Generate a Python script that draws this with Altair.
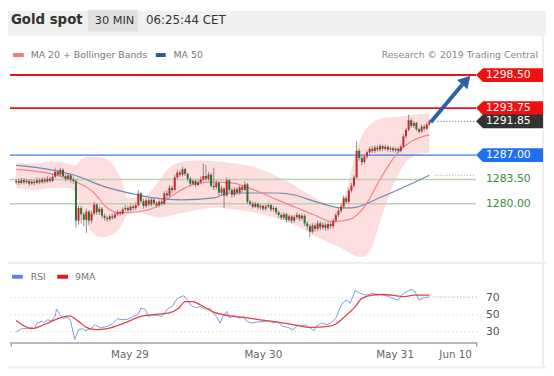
import altair as alt
import pandas as pd

FONT = "DejaVu Sans"

# ---------------- data ----------------
first_open = 1283.1
closes = [
1283.3,1283.0,1283.4,1283.1,1283.3,1282.9,1283.2,1283.0,1283.4,1283.1,
1283.5,1283.2,1283.6,1283.3,1283.9,1284.6,1284.2,1284.9,1284.0,1283.6,
1284.1,1283.5,1283.3,1277.6,1279.4,1278.5,1277.7,1278.9,1277.6,1278.6,
1279.9,1278.8,1279.3,1278.3,1278.0,1277.8,1278.2,1278.0,1278.5,1278.8,
1278.6,1279.2,1279.4,1279.1,1279.6,1279.4,1279.8,1281.5,1280.4,1279.7,
1280.5,1279.9,1280.6,1280.1,1279.8,1280.3,1280.0,1281.5,1281.2,1282.3,
1282.0,1283.8,1284.5,1284.2,1285.0,1284.3,1283.6,1282.9,1283.3,1282.7,
1283.1,1283.5,1284.0,1283.6,1284.2,1282.6,1282.4,1283.0,1281.6,1282.2,
1281.2,1283.4,1282.0,1281.3,1282.1,1281.6,1282.4,1282.0,1282.8,1280.3,
1280.0,1279.6,1280.0,1279.5,1279.7,1279.3,1279.6,1279.8,1279.2,1279.4,
1278.8,1278.4,1278.0,1278.5,1277.7,1278.2,1277.6,1278.1,1278.4,1277.9,
1278.3,1277.2,1276.8,1276.0,1276.9,1276.4,1277.2,1276.6,1277.0,1276.5,
1277.1,1276.8,1277.6,1278.4,1279.0,1279.6,1280.8,1280.3,1281.9,1282.6,
1283.8,1287.6,1286.6,1286.0,1286.8,1287.4,1287.9,1287.6,1288.1,1287.8,
1288.3,1287.9,1288.2,1287.8,1288.0,1287.7,1287.9,1287.6,1288.2,1289.7,
1290.6,1292.0,1291.2,1291.6,1290.7,1290.4,1291.1,1290.8,1291.4,1291.85]
highs = [
1283.6,1283.6,1283.7,1283.7,1283.6,1283.5,1283.5,1283.5,1283.8,1283.7,
1283.8,1283.8,1284.0,1283.9,1284.3,1285.2,1284.9,1285.2,1285.1,1284.3,
1284.4,1284.3,1283.9,1283.5,1279.8,1279.7,1278.8,1279.3,1279.1,1279.0,
1280.3,1280.1,1279.6,1279.5,1278.6,1278.3,1278.5,1278.6,1278.8,1279.1,
1279.0,1279.5,1279.8,1279.7,1279.9,1279.9,1280.2,1282.0,1281.7,1280.7,
1280.8,1280.8,1280.9,1280.9,1280.4,1280.6,1280.7,1281.8,1281.9,1282.7,
1282.6,1284.2,1284.9,1284.8,1285.3,1285.2,1284.5,1283.9,1283.6,1283.5,
1283.5,1283.9,1285.8,1285.6,1284.6,1284.4,1285.2,1283.4,1283.2,1282.6,
1282.4,1283.8,1283.6,1282.3,1282.4,1282.4,1282.7,1282.8,1283.2,1283.0,
1280.6,1280.3,1280.3,1280.2,1280.0,1279.9,1279.9,1280.1,1280.0,1279.7,
1279.6,1279.0,1278.7,1278.8,1278.7,1278.5,1278.4,1278.4,1278.8,1278.6,
1278.6,1278.5,1277.5,1277.1,1277.2,1277.2,1277.6,1277.5,1277.4,1277.3,
1277.4,1277.4,1277.9,1278.7,1279.4,1280.0,1281.2,1281.1,1282.3,1283.0,
1284.1,1289.0,1287.9,1286.9,1287.1,1287.7,1288.2,1288.3,1288.4,1288.4,
1288.6,1288.5,1288.5,1288.4,1288.3,1288.2,1288.2,1288.1,1288.5,1290.0,
1290.9,1292.8,1292.3,1291.9,1291.8,1290.9,1291.4,1291.4,1291.7,1292.1]
lows = [
1282.8,1282.7,1282.8,1282.8,1282.9,1282.5,1282.7,1282.6,1282.8,1282.8,
1282.9,1282.9,1283.0,1283.0,1283.1,1283.7,1283.9,1283.9,1283.7,1283.2,
1283.3,1283.0,1282.9,1276.6,1277.0,1277.2,1276.8,1275.8,1277.0,1277.2,
1278.3,1278.4,1278.4,1277.9,1277.6,1277.4,1277.5,1277.7,1277.8,1278.2,
1278.3,1278.4,1278.9,1278.8,1278.9,1279.1,1279.1,1279.6,1280.1,1279.3,
1279.4,1279.6,1279.6,1279.8,1279.4,1279.5,1279.7,1279.8,1280.8,1281.0,
1281.6,1281.8,1283.5,1283.9,1283.9,1284.0,1283.2,1282.5,1282.6,1282.4,
1282.5,1282.8,1283.2,1283.3,1283.3,1282.3,1282.0,1282.1,1281.2,1281.3,
1279.4,1281.0,1281.7,1280.9,1281.0,1281.3,1281.3,1281.7,1281.8,1280.0,
1279.7,1279.3,1279.4,1279.2,1279.2,1279.0,1279.0,1279.4,1278.9,1278.9,
1278.4,1278.0,1277.7,1277.7,1277.3,1277.4,1277.2,1277.3,1277.8,1277.5,
1277.6,1276.8,1276.3,1275.2,1275.7,1276.0,1276.1,1276.2,1276.3,1276.1,
1276.2,1276.4,1276.5,1277.3,1278.1,1278.7,1279.3,1280.0,1280.0,1281.6,
1282.3,1283.6,1286.2,1285.5,1285.7,1286.5,1287.1,1287.3,1287.3,1287.5,
1287.5,1287.6,1287.6,1287.5,1287.5,1287.4,1287.4,1287.3,1287.4,1288.0,
1289.4,1290.4,1290.9,1290.9,1290.4,1290.1,1290.2,1290.5,1290.6,1291.2]

band_i = [0,7,14,20,22.5,25.5,29,33,36.5,40.5,43,47.5,51.5,55,59,64.5,70,77,84.5,92,
          99.5,107,114.5,123.5,126,129,133,136.5,140.5,146,151.5,159]
band_upper = [1285.94,1285.80,1286.09,1285.80,1285.52,1286.51,1286.80,1286.65,1285.94,1283.40,
              1280.85,1280.99,1281.70,1283.40,1285.24,1286.09,1286.23,1286.09,1285.80,1285.24,
              1284.10,1282.69,1280.99,1279.43,1280.57,1284.81,1289.77,1291.47,1292.31,1292.46,
              1292.74,1293.02]
band_lower = [1282.26,1281.98,1282.26,1282.26,1281.70,1278.44,1276.04,1275.19,1275.47,1276.89,
              1278.44,1278.73,1278.30,1278.02,1278.30,1278.73,1279.15,1279.43,1279.15,1278.73,
              1278.02,1277.03,1275.47,1273.92,1273.49,1272.78,1272.36,1273.49,1278.02,1283.40,
              1286.51,1287.36]

ma20_i = [0,16,22.5,30,34.5,39.5,47,53,57.5,63.5,70,76,83.5,88.5,94.5,100.5,107,114.5,121.5,128,
          134,140.5,146.5,152.5,159]
ma20 = [1284.95,1284.10,1283.26,1281.56,1279.58,1278.73,1278.87,1279.43,1280.57,1281.98,
        1282.97,1283.11,1282.97,1282.41,1281.56,1280.57,1279.58,1278.44,1277.45,1277.74,
        1279.58,1283.82,1287.22,1289.06,1289.91]

ma50_i = [0,10,22.5,34.5,47,53,63.5,76,82,88.5,100.5,107,115.5,125.5,129,140.5,152.5,159]
ma50 = [1285.52,1285.10,1284.10,1282.41,1281.27,1280.85,1280.57,1280.85,1281.56,1281.56,
        1281.56,1281.27,1280.28,1279.43,1279.43,1280.99,1282.97,1284.10]

rsi_i = [0,2,4,6,7,8,10,11,12,13.5,15,15.5,17,18,20,21,22.5,24,25.5,26.5,
         28.5,30.5,32.5,35,37,39,41,43,45,47,48,49.5,51,52.5,54.5,56,57.5,58.5,60,61.5,
         62.5,64.5,66,67,69,71,72.5,74.5,75.5,77,78.5,79.5,81,82,84,86,87.5,88.5,90.5,92.5,
         95.5,97.5,99,100.5,102.5,104.5,106.5,108.5,109.5,111.5,113,114.5,115.5,117.5,119.5,121,123,124.5,126,127.5,
         128.5,130.5,132.5,134.5,137,140,142.5,145,147,149,152,153.5,155,157,159]
rsi = [29.6,33.5,33.5,35.1,33.5,40.1,42,40.9,44,42.8,47.9,56.7,49.8,45.9,46.7,42,20.7,32.3,33.5,31.2,
       33.1,38.1,34.3,36.3,39,45.1,44,44.8,47.9,50.6,57.6,56.7,47.9,49.8,49.1,47.9,53.7,57.6,59.5,67.2,
       70,72.3,67.2,61.4,58.4,59.5,56.7,57.6,53.7,47.9,40.1,47.9,53.7,46.7,49.1,45.9,47.9,42.8,40.1,41.3,
       42,42.8,40.1,42,36.3,35.1,32.3,38.1,36.3,38.1,34.3,31.2,36.3,40.1,38.1,40.1,45.9,57.6,65.3,67.2,
       63.4,78.8,75,73,75,73.8,72.3,69.2,67.2,75,80,77,67.2,70,71]

ma9_i = [0,6,11.5,16.5,20.5,24,27,31,35,41.5,48,54.5,58.5,62.5,65,68,71,75.5,81,87.5,
         95.5,100.5,107,113.5,120,123,126.5,130.5,133,137,141,146.5,149.5,153,159]
ma9 = [43.2,33.5,39.3,45.9,48.6,42.1,35.1,32.3,33.5,40.1,47.9,50.6,51.7,57.6,65.3,65.3,61.4,53.7,49.1,46.7,
       43.2,41.3,38.1,35.1,36.3,39,47.9,59.5,69.2,73,73.8,72.3,71.2,73,73]

red_levels = [1298.50, 1293.75]
blue_levels = [1287.00]
green_levels = [1283.50, 1280.00]
last_price = [1291.85]
ma50_last = [1284.10]
rsi_last = [71.0]
rsi_grid = [70, 50, 30]
arrow_i = [159.5, 171.7]
arrow_p = [1291.73, 1297.13]
arrow_head_i = [173.2]
arrow_head_p = [1297.76]
day_labels = ["May 29", "May 30", "May 31", "Jun 10"]
day_pos = [43.8, 95.1, 145.8, 169.1]

# ---------------- scales ----------------
XS = alt.Scale(domain=[0, 160], range=[3.3, 435.3], nice=False, zero=False)
PS = alt.Scale(domain=[1270, 1300], range=[266.7, 54.7], nice=False, zero=False)
RS = alt.Scale(domain=[0, 100], range=[351.5, 265.5], nice=False, zero=False)

def X(f):
    return alt.X(f, type="quantitative", scale=XS, axis=None)
def PY(f):
    return alt.Y(f, type="quantitative", scale=PS, axis=None)
def PY2(f):
    return alt.Y2(f)
def RY(f):
    return alt.Y(f, type="quantitative", scale=RS, axis=None)

one = pd.DataFrame({"a": [0]})

def box(x1, x2, y1, y2, color, **kw):
    return alt.Chart(one).mark_rect(color=color, **kw).encode(
        x=alt.value(x1), x2=alt.value(x2), y=alt.value(y1), y2=alt.value(y2))

def txt(t, x, y, size, color, weight="normal", align="left"):
    return alt.Chart(pd.DataFrame({"t": [t]})).mark_text(
        align=align, baseline="middle", font=FONT, fontSize=size, color=color, fontWeight=weight
    ).encode(x=alt.value(x), y=alt.value(y), text="t:N")

opens = [first_open] + closes[:-1]
candles = pd.DataFrame({"i": list(range(len(closes))), "open": opens, "close": closes,
                        "high": highs, "low": lows})
band = pd.DataFrame({"i": band_i, "up": band_upper, "lo": band_lower})
ma20_df = pd.DataFrame({"i": ma20_i, "v": ma20})
ma50_df = pd.DataFrame({"i": ma50_i, "v": ma50})
rsi_df = pd.DataFrame({"i": rsi_i, "v": rsi})
ma9_df = pd.DataFrame({"i": ma9_i, "v": ma9})

layers = []
# header
layers.append(box(0, 546, 0, 26, "#f0f0f0"))
layers.append(box(81, 132, -1, 21, "#e1e1e1"))
layers.append(txt("Gold spot", 3, 10, 13.5, "#333333", weight="bold"))
layers.append(txt("30 MIN", 88, 10, 11.5, "#333333"))
layers.append(txt("06:25:44 CET", 140, 10, 12, "#333333"))
# panel separators / border
layers.append(box(0, 546, 255, 257, "#eeeeee"))
layers.append(box(0, 546, 361, 363, "#eeeeee"))
layers.append(box(542, 544, 26, 363, "#eeeeee"))

# legend
layers.append(box(5, 16, 43, 47, "#f07a7a"))
layers.append(txt("MA 20 + Bollinger Bands", 23, 45, 9.5, "#777777"))
layers.append(box(150, 160, 43, 47, "#2f5597"))
layers.append(txt("MA 50", 168, 45, 9.5, "#777777"))
layers.append(txt("Research \u00a9 2019 Trading Central", 538, 45, 9.5, "#888888", align="right"))

# Bollinger band
layers.append(alt.Chart(band).mark_area(color="#fbd6d6", opacity=0.8, interpolate="monotone").encode(
    x=X("i"), y=PY("up"), y2=PY2("lo")))

# level lines
lv = lambda vals: pd.DataFrame({"p": vals})
layers.append(alt.Chart(lv(green_levels)).mark_rule(color="#b9d2b3", strokeWidth=1.5).encode(
    x=alt.value(2), x2=alt.value(475), y=PY("p")))
layers.append(alt.Chart(lv(blue_levels)).mark_rule(color="#3d7be6", strokeWidth=1.5).encode(
    x=alt.value(2), x2=alt.value(475), y=PY("p")))
layers.append(alt.Chart(lv(red_levels)).mark_rule(color="#e8141c", strokeWidth=2).encode(
    x=alt.value(2), x2=alt.value(475), y=PY("p")))

# moving averages
layers.append(alt.Chart(ma50_df).mark_line(color="#7589b0", strokeWidth=1.2, interpolate="monotone").encode(
    x=X("i"), y=PY("v")))
layers.append(alt.Chart(ma20_df).mark_line(color="#f08585", strokeWidth=1.2, interpolate="monotone").encode(
    x=X("i"), y=PY("v")))

# dotted extensions
layers.append(alt.Chart(lv(last_price)).mark_rule(color="#555555", strokeWidth=1, strokeDash=[1, 2]).encode(
    x=alt.value(436), x2=alt.value(475), y=PY("p")))
layers.append(alt.Chart(lv(ma50_last)).mark_rule(color="#8f9fc4", strokeWidth=1, strokeDash=[1, 2]).encode(
    x=alt.value(433), x2=alt.value(475), y=PY("p")))

# candles
updown = alt.condition("datum.close >= datum.open", alt.value("#cc2229"), alt.value("#2e6e2e"))
layers.append(alt.Chart(candles).mark_rule(strokeWidth=1, color="#8a8a8a").encode(
    x=X("i"), y=PY("low"), y2=PY2("high")))
layers.append(alt.Chart(candles).mark_bar(size=2).encode(
    x=X("i"), y=PY("open"), y2=PY2("close"), color=updown))

# arrow
arrow_df = pd.DataFrame({"i": arrow_i, "p": arrow_p})
layers.append(alt.Chart(arrow_df).mark_line(color="#2c5fa8", strokeWidth=4, strokeCap="butt").encode(
    x=X("i"), y=PY("p")))
layers.append(alt.Chart(pd.DataFrame({"i": arrow_head_i, "p": arrow_head_p})).mark_point(
    shape="triangle-up", filled=True, size=200, angle=42, color="#2c5fa8", opacity=1).encode(
    x=X("i"), y=PY("p")))

# price tags
TAG = "M-1,0L-0.794,-0.206L1,-0.206L1,0.206L-0.794,0.206Z"
def tag(vals, color):
    return alt.Chart(lv(vals)).mark_point(shape=TAG, filled=True, size=4624, color=color, opacity=1,
                                          strokeWidth=0).encode(x=alt.value(509), y=PY("p"))
def tag_text(vals, color):
    return alt.Chart(lv(vals)).mark_text(align="left", baseline="middle", font=FONT, fontSize=11,
                                         color=color).encode(
        x=alt.value(485), y=PY("p"), text=alt.Text("p:Q", format=".2f"))
layers.append(tag(red_levels, "#ee1111"))
layers.append(tag(last_price, "#333333"))
layers.append(tag(blue_levels, "#1f6ff0"))
layers.append(tag_text(red_levels, "white"))
layers.append(tag_text(last_price, "white"))
layers.append(tag_text(blue_levels, "white"))
layers.append(tag_text(green_levels, "#3b8a3b"))

# RSI panel
layers.append(box(4, 15, 268, 272, "#5b80d8"))
layers.append(txt("RSI", 23, 270, 9.5, "#777777"))
layers.append(box(50, 61, 268, 272, "#e01b1b"))
layers.append(txt("9MA", 68, 270, 9.5, "#777777"))
grid_df = pd.DataFrame({"v": rsi_grid})
layers.append(alt.Chart(grid_df).mark_rule(color="#cccccc", strokeWidth=1, strokeDash=[1, 3]).encode(
    x=alt.value(3), x2=alt.value(476), y=RY("v")))
layers.append(alt.Chart(pd.DataFrame({"v": rsi_last})).mark_rule(color="#9fb3dd", strokeWidth=1, strokeDash=[1, 2]).encode(
    x=alt.value(432), x2=alt.value(476), y=RY("v")))
layers.append(alt.Chart(grid_df).mark_text(align="left", baseline="middle", font=FONT, fontSize=11,
                                           color="#555555").encode(
    x=alt.value(485), y=RY("v"), text="v:Q"))
layers.append(alt.Chart(rsi_df).mark_line(color="#7b9be0", strokeWidth=1).encode(x=X("i"), y=RY("v")))
layers.append(alt.Chart(ma9_df).mark_line(color="#e2404a", strokeWidth=1.3, interpolate="monotone").encode(
    x=X("i"), y=RY("v")))

# time axis
layers.append(box(2.6, 476, 336.5, 338, "#a0a0a0"))
layers.append(box(2.6, 4, 336.5, 341, "#a0a0a0"))
layers.append(box(475, 476.4, 336.5, 341, "#a0a0a0"))
layers.append(alt.Chart(pd.DataFrame({"d": day_labels, "i": day_pos})).mark_text(
    align="center", baseline="middle", font=FONT, fontSize=10.5, color="#666666").encode(
    x=X("i"), y=alt.value(349), text="d:N"))

chart = alt.layer(*layers).resolve_scale(y="independent").properties(
    width=546, height=368, autosize=alt.AutoSizeParams(type="none"), padding=0,
    background="white").configure_view(stroke=None)

chart.save("out.html", embed_options={"renderer": "svg", "actions": False})
